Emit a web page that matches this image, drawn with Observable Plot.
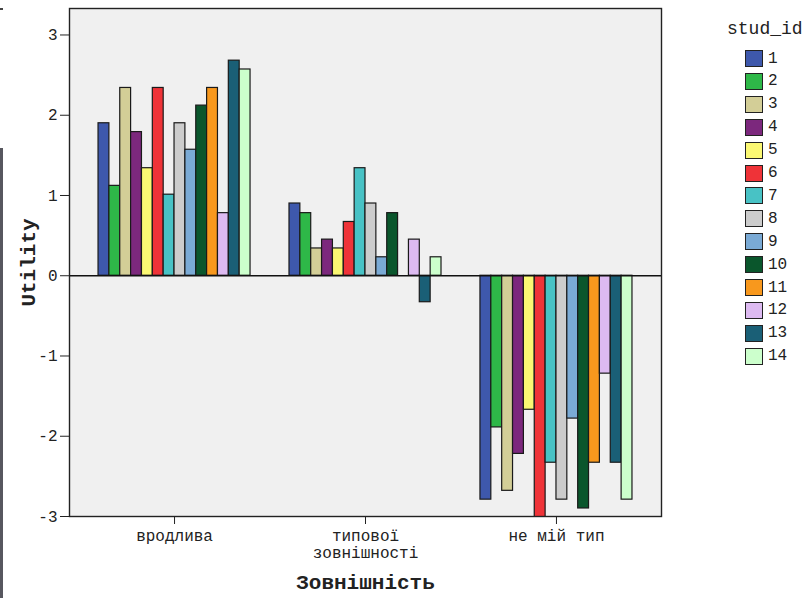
<!DOCTYPE html>
<html>
<head>
<meta charset="utf-8">
<script src="https://cdn.jsdelivr.net/npm/d3@7"></script>
<script src="https://cdn.jsdelivr.net/npm/@observablehq/plot@0.6"></script>
<style>
  html, body { margin: 0; padding: 0; background: #fff; }
  #wrap { position: relative; width: 808px; height: 598px; overflow: hidden; font-family: "Liberation Mono", "DejaVu Sans Mono", monospace; }
  #chart svg { display: block; }
  g[aria-label="y-axis label"] text, g[aria-label="x-axis label"] text { font-weight: bold; font-size: 21px; }
  #legend { position: absolute; left: 727px; top: 0; width: 81px; color: #222; }
  #legend .title { position: absolute; left: 0; top: 20px; font-size: 18px; line-height: 18px; white-space: nowrap; }
  #legend .item { position: absolute; left: 18px; height: 17px; display: flex; align-items: center; white-space: nowrap; }
  #legend .sw { width: 16px; height: 15px; border: 1px solid #222; margin-right: 5px; box-sizing: content-box; }
  #legend .lab { font-size: 16px; line-height: 16px; }
  #edge { position: absolute; left: 0; top: 148px; width: 3px; height: 450px; background: #57575f; }
  #nick { position: absolute; left: 0; top: 8px; width: 3px; height: 2px; background: #444; }
</style>
</head>
<body>
<div id="wrap">
  <div id="chart"></div>
  <div id="legend"></div>
  <div id="edge"></div>
  <div id="nick"></div>
</div>
<script>
// ---- data ----
const groups = ["вродлива", "типової зовнішності", "не мій тип"];
const groupTickLabels = ["вродлива", "типової\nзовнішності", "не мій тип"];
const studIds = [1, 2, 3, 4, 5, 6, 7, 8, 9, 10, 11, 12, 13, 14];
const utilVrodlyva = [1.90, 1.12, 2.34, 1.79, 1.34, 2.34, 1.01, 1.90, 1.57, 2.12, 2.34, 0.78, 2.68, 2.57];
const utilTypovoi  = [0.90, 0.78, 0.34, 0.45, 0.34, 0.67, 1.34, 0.90, 0.23, 0.78, 0.00, 0.45, -0.33, 0.23];
const utilNeMii    = [-2.79, -1.89, -2.68, -2.22, -1.67, -3.01, -2.33, -2.79, -1.78, -2.90, -2.33, -1.22, -2.33, -2.79];
const studColors = ["#3e58ac", "#2eb848", "#d3ce97", "#7c287d", "#fbf873", "#ef3338", "#48c2c5",
                    "#cccccc", "#7aaad5", "#0a562c", "#f8981d", "#ddbaf1", "#1a5f76", "#ccffcc"];
const yTicks = [-3, -2, -1, 0, 1, 2, 3];
const yLabel = "Utility";
const xLabel = "Зовнішність";
const legendTitle = "stud_id";

const series = [utilVrodlyva, utilTypovoi, utilNeMii];
const data = groups.flatMap((g, gi) => studIds.map((s, i) => ({group: g, stud: s, utility: series[gi][i]})));
const tickMap = new Map(groups.map((g, i) => [g, groupTickLabels[i]]));

const layout = {
  width: 808, height: 598,
  marginLeft: 69, marginRight: 147, marginTop: 8, marginBottom: 82
};
const xOpts = {domain: groups, paddingInner: 0.204, paddingOuter: 0.152, round: false, label: null};

// measure the group band width from the library's own band scale
const probe = Plot.plot({...layout, x: xOpts, marks: [Plot.barY(data, {x: "group", y: "utility"})]});
let bw = probe.scale("x") && probe.scale("x").bandwidth;
if (!(bw > 0)) {
  const plotW = layout.width - layout.marginLeft - layout.marginRight;
  const step = plotW / (groups.length - xOpts.paddingInner + 2 * xOpts.paddingOuter);
  bw = step * (1 - xOpts.paddingInner);
}
const slot = bw / studIds.length;

const barMarks = studIds.map((s, i) =>
  Plot.barY(data.filter(d => d.stud === s), {
    x: "group", y: "utility", fill: "stud",
    stroke: "#1a1a1a", strokeWidth: 1.2, clip: true,
    insetLeft: i * slot, insetRight: (studIds.length - 1 - i) * slot
  })
);

const chart = Plot.plot({
  ...layout,
  style: {fontFamily: "Liberation Mono", fontSize: "16px", color: "#222", background: "transparent", overflow: "visible"},
  x: xOpts,
  y: {domain: [-3, 3.33]},
  color: {domain: studIds, range: studColors},
  marks: [
    Plot.frame({fill: "#f0f0f0", stroke: null}),
    ...barMarks,
    Plot.ruleY([0], {stroke: "#111", strokeWidth: 1.5}),
    Plot.frame({stroke: "#222", strokeWidth: 1.4}),
    Plot.axisY({ticks: yTicks, tickSize: 9, tickPadding: 3, tickFormat: d => String(d).replace("−", "-"),
                label: yLabel, labelAnchor: "center", labelOffset: 49, labelArrow: "none"}),
    Plot.axisX({anchor: "bottom", tickSize: 8, tickPadding: 5, tickFormat: d => tickMap.get(d), lineHeight: 1.05,
                label: xLabel, labelAnchor: "center", labelOffset: 72})
  ]
});
document.getElementById("chart").appendChild(chart);

// ---- legend ----
const legend = d3.select("#legend");
legend.append("div").attr("class", "title").text(legendTitle);
studIds.forEach((s, i) => {
  const item = legend.append("div").attr("class", "item").style("top", (50 + i * 22.9) + "px");
  item.append("div").attr("class", "sw").style("background", studColors[i]);
  item.append("span").attr("class", "lab").text(s);
});
</script>
</body>
</html>
